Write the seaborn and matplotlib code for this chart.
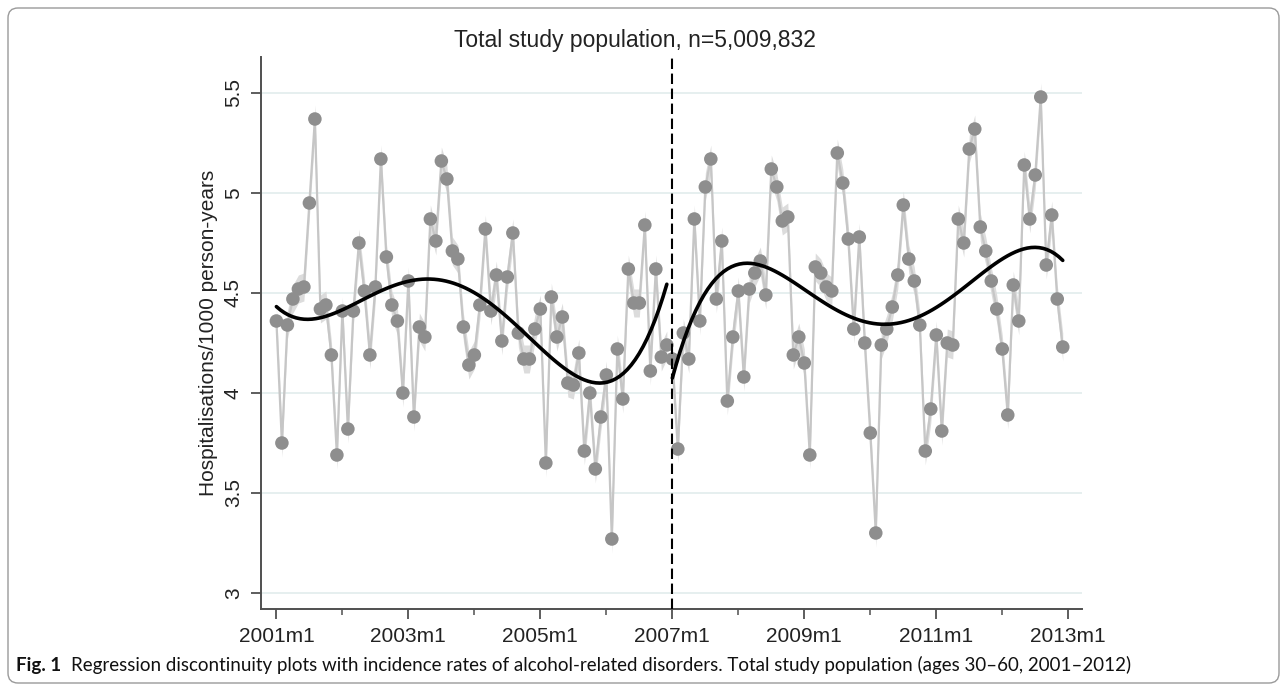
import numpy as np
import pandas as pd
import matplotlib
matplotlib.use("Agg")
import matplotlib.pyplot as plt
import seaborn as sns
from matplotlib.patches import FancyBboxPatch
from matplotlib.ticker import FixedLocator

# ---------------- data (monthly rates, 2001m1 .. 2012m12) ----------------
pre_rates = [4.36, 3.75, 4.34, 4.47, 4.52, 4.53, 4.95, 5.37, 4.42, 4.44, 4.19, 3.69,
             4.41, 3.82, 4.41, 4.75, 4.51, 4.19, 4.53, 5.17, 4.68, 4.44, 4.36, 4.00,
             4.56, 3.88, 4.33, 4.28, 4.87, 4.76, 5.16, 5.07, 4.71, 4.67, 4.33, 4.14,
             4.19, 4.44, 4.82, 4.41, 4.59, 4.26, 4.58, 4.80, 4.30, 4.17, 4.17, 4.32,
             4.42, 3.65, 4.48, 4.28, 4.38, 4.05, 4.04, 4.20, 3.71, 4.00, 3.62, 3.88,
             4.09, 3.27, 4.22, 3.97, 4.62, 4.45, 4.45, 4.84, 4.11, 4.62, 4.18, 4.24]
post_rates = [4.17, 3.72, 4.30, 4.17, 4.87, 4.36, 5.03, 5.17, 4.47, 4.76, 3.96, 4.28,
              4.51, 4.08, 4.52, 4.60, 4.66, 4.49, 5.12, 5.03, 4.86, 4.88, 4.19, 4.28,
              4.15, 3.69, 4.63, 4.60, 4.53, 4.51, 5.20, 5.05, 4.77, 4.32, 4.78, 4.25,
              3.80, 3.30, 4.24, 4.32, 4.43, 4.59, 4.94, 4.67, 4.56, 4.34, 3.71, 3.92,
              4.29, 3.81, 4.25, 4.24, 4.87, 4.75, 5.22, 5.32, 4.83, 4.71, 4.56, 4.42,
              4.22, 3.89, 4.54, 4.36, 5.14, 4.87, 5.09, 5.48, 4.64, 4.89, 4.47, 4.23]
band_halfwidth = 0.07

x_major_labels = ["2001m1", "2003m1", "2005m1", "2007m1", "2009m1", "2011m1", "2013m1"]
x_minor_labels = ["2002m1", "2004m1", "2006m1", "2008m1", "2010m1", "2012m1"]
y_ticks = [3, 3.5, 4, 4.5, 5, 5.5]
y_tick_labels = ["3", "3.5", "4", "4.5", "5", "5.5"]
title_text = "Total study population, n=5,009,832"
ylabel_text = "Hospitalisations/1000 person-years"
caption_bold = "Fig. 1"
caption_text = ("Regression discontinuity plots with incidence rates of alcohol-related disorders. "
                "Total study population (ages 30\u201360, 2001\u20132012)")


def month_index(label):
    y, m = label.split("m")
    return (int(y) - 2001) * 12 + int(m) - 1


rates = pre_rates + post_rates
df = pd.DataFrame({
    "month": np.arange(len(rates)),
    "rate": rates,
    "period": ["pre"] * len(pre_rates) + ["post"] * len(post_rates),
})
cutoff = month_index("2007m1")

sns.set_theme(style="white")
plt.rcParams["font.family"] = ["Liberation Sans", "DejaVu Sans"]

W, H = 1287, 687
fig = plt.figure(figsize=(W / 100, H / 100), dpi=100)
fig.patch.set_facecolor("white")

ax_l, ax_r, ax_t, ax_b = 261, 1082, 57, 609
ax = fig.add_axes([ax_l / W, 1 - ax_b / H, (ax_r - ax_l) / W, (ax_b - ax_t) / H])

# grid
ax.set_axisbelow(True)
for yv in y_ticks:
    ax.axhline(yv, color="#e4eeee", lw=1.3, zorder=0)

for per, sub in df.groupby("period", sort=False):
    ax.fill_between(sub["month"], sub["rate"] - band_halfwidth, sub["rate"] + band_halfwidth,
                    color="#dcdcdc", lw=0, zorder=1)
    sns.lineplot(data=sub, x="month", y="rate", color="#c6c6c6", lw=1.6, ax=ax,
                 estimator=None, zorder=2)
sns.scatterplot(data=df, x="month", y="rate", color="#8e8e8e", s=95, edgecolor="none",
                ax=ax, zorder=3, legend=False)
for per, sub in df.groupby("period", sort=False):
    sns.regplot(data=sub, x="month", y="rate", order=4, ci=None, scatter=False, ax=ax,
                line_kws=dict(color="black", lw=2.6, zorder=4))

ax.axvline(cutoff, color="black", lw=1.5, dashes=(5, 2.2), zorder=5)

ax.set_xlim(-2.8, 146.5)
ax.set_ylim(2.92, 5.68)
ax.set_xticks([month_index(l) for l in x_major_labels])
ax.set_xticklabels(x_major_labels, fontsize=15)
ax.xaxis.set_minor_locator(FixedLocator([month_index(l) for l in x_minor_labels]))
ax.set_yticks(y_ticks)
ax.set_yticklabels(y_tick_labels, fontsize=15, rotation=90, va="center")
ax.tick_params(axis="both", which="major", direction="out", length=7, width=1.3,
               color="#505050", bottom=True, left=True, pad=6, labelcolor="#222222")
ax.tick_params(axis="x", which="minor", direction="out", length=4, width=1.1,
               color="#505050", bottom=True)
ax.set_xlabel("")
ax.set_ylabel(ylabel_text, fontsize=15, color="#222222", labelpad=4)
for s in ["top", "right"]:
    ax.spines[s].set_visible(False)
for s in ["left", "bottom"]:
    ax.spines[s].set_color("#505050")
    ax.spines[s].set_linewidth(1.4)

fig.text(635 / W, 1 - 41 / H, title_text, ha="center", va="center", fontsize=16.5,
         color="#222222")

# caption
fig.canvas.draw()
renderer = fig.canvas.get_renderer()
cap_y = 1 - 665 / H
t1 = fig.text(16 / W, cap_y, caption_bold, ha="left", va="center", fontsize=13.5,
              fontweight="bold", family=["Lato", "DejaVu Sans"], color="#111111")
bb = t1.get_window_extent(renderer=renderer)
fig.text((bb.x1 + 10) / W, cap_y, caption_text, ha="left", va="center", fontsize=13.5,
         family=["Lato", "DejaVu Sans"], color="#111111")

border = FancyBboxPatch((8, 4), W - 16, H - 12, boxstyle="round,pad=0,rounding_size=10",
                        transform=None, facecolor="none", edgecolor="#9a9a9a", lw=1.0)
fig.patches.append(border)

fig.savefig("out.png", dpi=100, facecolor="white")
